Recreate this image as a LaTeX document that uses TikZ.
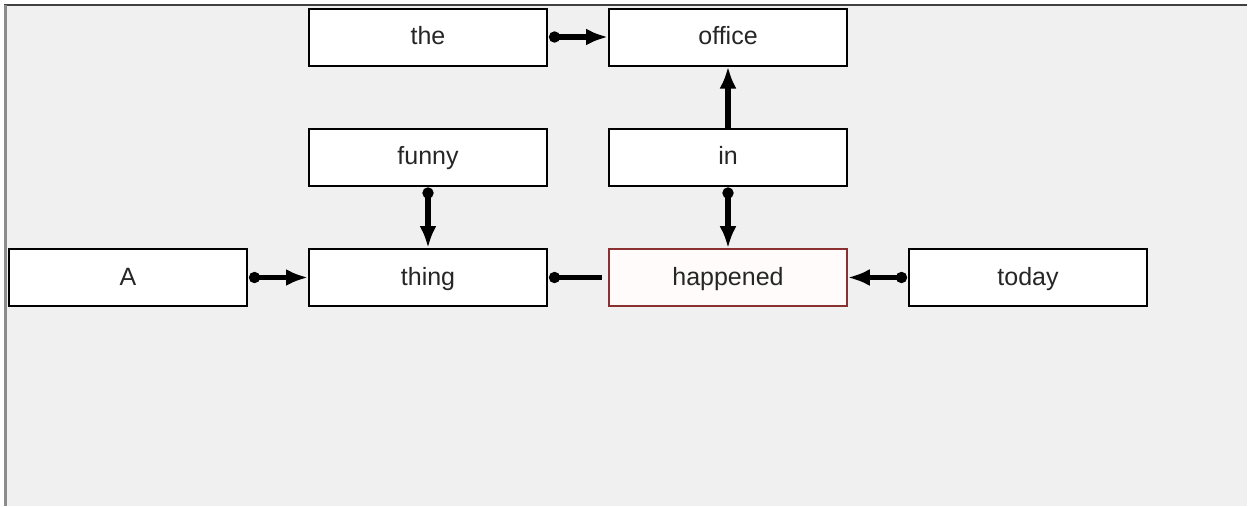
\documentclass[tikz,border=0pt]{standalone}
\usepackage{fontspec}
\setmainfont{Liberation Sans}
\usetikzlibrary{arrows.meta}
\definecolor{panel}{HTML}{F0F0F0}
\definecolor{headred}{HTML}{8A3030}
\definecolor{headfill}{HTML}{FFFBFB}
\begin{document}
\begin{tikzpicture}[x=1pt,y=-1pt,
  word/.style={draw=black,line width=2pt,fill=white,minimum width=238pt,
    minimum height=57pt,inner sep=0pt,text height=20pt,text depth=5pt,
    font=\fontsize{25}{28}\selectfont,text=black!85},
  headword/.style={word,draw=headred,line width=1.6pt,fill=headfill},
  link/.style={line width=5.5pt,{Circle[length=11pt,width=11pt]}-{Latex[length=22pt,width=17pt]},
    shorten <=1pt},
  plainlink/.style={line width=5.5pt,{Circle[length=11pt,width=11pt]}-,shorten <=1pt}]
  \useasboundingbox (0,0) rectangle (1252,506);
  % window panel
  \fill[white] (0,0) rectangle (1252,506);
  \fill[panel] (4,5) rectangle (1247,506);
  \draw[line width=2pt,black!75] (4,5) -- (1247,5);
  \draw[line width=3pt,black!45] (5.5,5) -- (5.5,506);

  % words
  \node[word] (the) at (428,37) {the};
  \node[word] (office) at (728,37) {office};
  \node[word] (funny) at (428,157) {funny};
  \node[word] (in) at (728,157) {in};
  \node[word] (A) at (128,277.5) {A};
  \node[word] (thing) at (428,277.5) {thing};
  \node[headword] (happened) at (728,277.5) {happened};
  \node[word] (today) at (1028,277.5) {today};

  % dependency links
  \draw[link] (the) -- (office);
  \draw[link] (A) -- (thing);
  \draw[link] (funny) -- (thing);
  \draw[link] (in) -- (happened);
  \draw[link] (today) -- (happened);
  \draw[line width=5.5pt,-{Latex[length=22pt,width=17pt]},shorten <=0pt] (in) -- (office);
  \draw[plainlink,shorten >=6pt] (thing) -- (happened);
\end{tikzpicture}
\end{document}
